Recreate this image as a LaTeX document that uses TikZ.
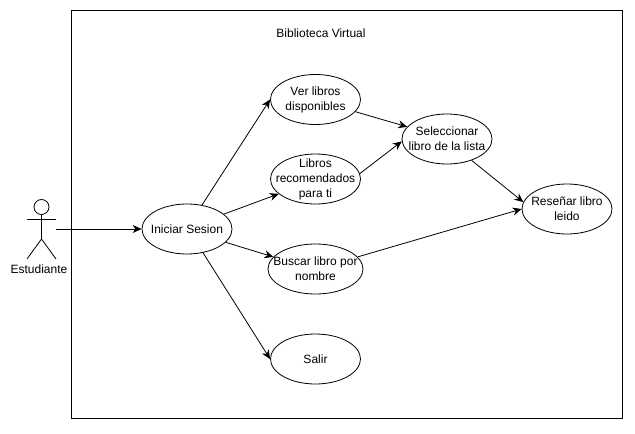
\documentclass[tikz,border=0pt]{standalone}
\usepackage{fontspec}
\setmainfont{Liberation Sans}
\usetikzlibrary{shapes.geometric,arrows.meta}
\begin{document}
\begin{tikzpicture}[x=1pt,y=-1pt,line width=0.8pt,case/.style={draw,ellipse,minimum width=90pt,minimum height=50pt,inner xsep=-15pt,inner ysep=-10pt,align=center,font=\fontsize{12}{15}\selectfont},
        link/.style={-{Stealth[length=9pt,width=8pt]}},label/.style={font=\fontsize{12}{15}\selectfont}]
        \useasboundingbox (0,0) rectangle (635,434);
        % Sistema
        \draw (71.5,10.5) rectangle (622.5,418.5);
        \node[label] (titulo) at (321,33) {Biblioteca Virtual};

        % Casos de uso
        \node[case] (iniciar) at (187,229) {Iniciar Sesion};
        \node[case] (ver) at (315.5,99.5) {Ver libros\\disponibles};
        \node[case] (recomendados) at (315.5,179) {Libros\\recomendados\\para ti};
        \node[case,minimum width=95pt] (buscar) at (315.5,269) {Buscar libro por\\nombre};
        \node[case] (salir) at (315.5,359) {Salir};
        \node[case] (seleccionar) at (447,139) {Seleccionar\\libro de la lista};
        \node[case] (resenar) at (567,209) {Reseñar libro\\leido};

        % Actor
        \coordinate (cabeza) at (41.5,207);
        \coordinate (cuello) at (41.5,214.5);
        \coordinate (cadera) at (41.5,239);
        \coordinate (brazoizq) at (27,219);
        \coordinate (brazoder) at (56,219);
        \coordinate (pieizq) at (27,259);
        \coordinate (pieder) at (56,259);
        \coordinate (mano) at (56,229);
        \draw (cabeza) circle (7.5pt);
        \draw (cuello) -- (cadera);
        \draw (brazoizq) -- (brazoder);
        \draw (pieizq) -- (cadera) -- (pieder);
        \node[label] (estudiante) at (39,269) {Estudiante};

        % Conexiones
        \draw[link] (mano) -- (iniciar);
        \draw[link] (iniciar.58) -- (ver.west);
        \draw[link] (iniciar.22) -- (recomendados.202);
        \draw[link] (iniciar.-19) -- (buscar.164);
        \draw[link] (iniciar.-56) -- (salir.west);
        \draw[link] (ver.-17) -- (seleccionar.163);
        \draw[link] (recomendados.7) -- (seleccionar.183);
        \draw[link] (seleccionar.-41) -- (resenar.171);
        \draw[link] (buscar.16) -- (resenar.west);
    \end{tikzpicture}
\end{document}
